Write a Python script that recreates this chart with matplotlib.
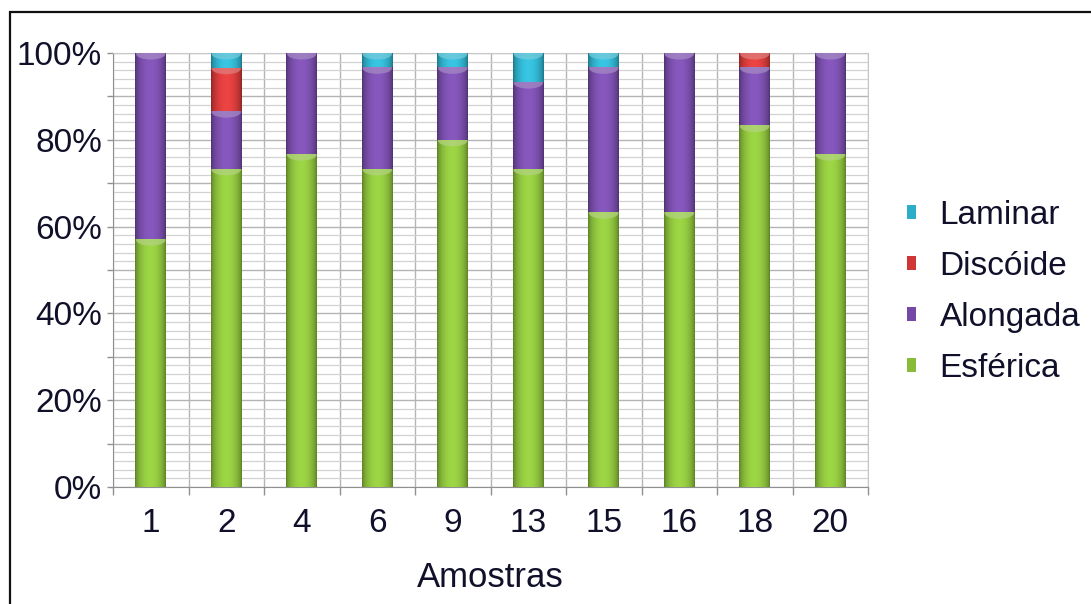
import numpy as np
import matplotlib
matplotlib.use("Agg")
import matplotlib.pyplot as plt
from matplotlib.colors import to_rgb
from matplotlib.patches import Ellipse, Rectangle
from matplotlib.ticker import MultipleLocator, FuncFormatter

plt.rcParams["font.family"] = ["Liberation Sans", "DejaVu Sans"]

# Sample ids and shape percentages per sample
amostras = ["1", "2", "4", "6", "9", "13", "15", "16", "18", "20"]
esferica = [57.1, 73.3, 76.7, 73.3, 80.0, 73.3, 63.3, 63.3, 83.3, 76.7]
alongada = [42.9, 13.3, 23.3, 23.4, 16.7, 20.0, 33.4, 36.7, 13.4, 23.3]
discoide = [0.0, 10.0, 0.0, 0.0, 0.0, 0.0, 0.0, 0.0, 3.3, 0.0]
laminar = [0.0, 3.4, 0.0, 3.3, 3.3, 6.7, 3.3, 0.0, 0.0, 0.0]

series = [
    ("Esférica", esferica, "#88bc38"),
    ("Alongada", alongada, "#7449a6"),
    ("Discóide", discoide, "#d03636"),
    ("Laminar", laminar, "#2cadc8"),
]

TEXT = "#10102a"

fig = plt.figure(figsize=(10.91, 6.04), dpi=100)
ax = fig.add_axes([113 / 1091, 1 - 487 / 604, (868 - 113) / 1091, (487 - 53) / 604])

x = np.arange(len(amostras))
width = 0.41


def cylinder(ax, bars, base):
    """Shade each bar like a cylinder and add a light cap on top."""
    c = np.array(to_rgb(base))
    t = np.linspace(0, 1, 80)
    prof = np.sin(np.pi * t) ** 0.6
    dark = c * 0.66
    light = np.clip(c * 1.1 + 0.03, 0, 1)
    grad = dark[None, :] + (light - dark)[None, :] * prof[:, None]
    cap = np.clip(c + (1 - c) * 0.35, 0, 1)
    for p in bars:
        x0, y0 = p.get_xy()
        w, h = p.get_width(), p.get_height()
        if h <= 0:
            continue
        im = ax.imshow(grad[None, :, :], extent=[x0, x0 + w, y0, y0 + h],
                       aspect="auto", interpolation="bilinear", zorder=3)
        im.set_clip_path(p)
        e = Ellipse((x0 + w / 2, y0 + h - 0.2), w * 0.95, 2.6,
                    facecolor=cap, edgecolor="none", alpha=0.75, zorder=3.5)
        ax.add_patch(e)
        e.set_clip_path(p)


bottom = np.zeros(len(amostras))
handles = []
for name, vals, col in series:
    vals = np.array(vals)
    bars = ax.bar(x, vals, width, bottom=bottom, color=col, label=name,
                  zorder=2, linewidth=0)
    cylinder(ax, bars, col)
    handles.append(bars)
    bottom = bottom + vals

ax.set_xlim(-0.5, len(amostras) - 0.5)
ax.set_ylim(0, 100)

# y axis: ticks every 10 %, labels every 20 %, fine grid every 2 %
ax.yaxis.set_major_locator(MultipleLocator(10))
ax.yaxis.set_minor_locator(MultipleLocator(2))
ax.yaxis.set_major_formatter(FuncFormatter(
    lambda v, _: f"{int(round(v))}%" if int(round(v)) % 20 == 0 else ""))
ax.tick_params(axis="y", which="major", length=4, width=1, color="#909090",
               pad=4, labelsize=24, labelcolor=TEXT)
ax.tick_params(axis="y", which="minor", length=0)

# x axis: labels under bars, tick marks between categories
ax.set_xticks(x)
ax.set_xticklabels(amostras)
ax.set_xticks(np.arange(len(amostras) + 1) - 0.5, minor=True)
ax.tick_params(axis="x", which="major", length=0, pad=15, labelsize=24,
               labelcolor=TEXT)
ax.tick_params(axis="x", which="minor", length=6, width=1, color="#909090",
               direction="out")

ax.grid(axis="y", which="minor", color="#d2d2d2", linewidth=0.9, zorder=0)
ax.grid(axis="y", which="major", color="#b4b4b4", linewidth=1.0, zorder=0)
ax.grid(axis="x", which="minor", color="#b4b4b4", linewidth=1.0, zorder=0)
ax.set_axisbelow(True)

for s in ("top", "right"):
    ax.spines[s].set_color("#c8c8c8")
for s in ("left", "bottom"):
    ax.spines[s].set_color("#909090")

ax.set_xlabel("Amostras", fontsize=25, color=TEXT, labelpad=16)

leg = ax.legend(handles[::-1], [s[0] for s in series][::-1],
                loc="center left", bbox_to_anchor=(907 / 1091, 1 - 292 / 604),
                bbox_transform=fig.transFigure, frameon=False, fontsize=24,
                handlelength=0.28, handleheight=0.28, handletextpad=0.7,
                labelspacing=0.6, borderpad=0, borderaxespad=0,
                labelcolor=TEXT)

# outer frame of the chart (left and top edges visible)
fig.add_artist(Rectangle((10 / 1091, -0.2), 1.2, (1 - 12 / 604) + 0.2,
                         transform=fig.transFigure, fill=False,
                         edgecolor="#101010", linewidth=1.6))

fig.savefig("out.png", dpi=100, facecolor="white")
